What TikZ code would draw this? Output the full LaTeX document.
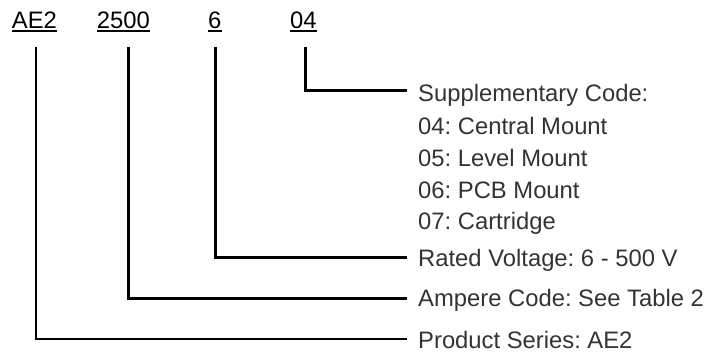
\documentclass[tikz,border=0pt]{standalone}
\usepackage{fontspec}
\setmainfont{Liberation Sans}
\usetikzlibrary{calc}
\definecolor{txtgray}{HTML}{333333}
\frenchspacing
\begin{document}
\begin{tikzpicture}[x=1pt,y=-1pt,
  lbl/.style={anchor=base west,inner sep=0pt,font=\fontsize{23.8}{28}\selectfont\frenchspacing,text=black},
  desc/.style={anchor=base west,inner sep=0pt,font=\fontsize{23.8}{28}\selectfont\frenchspacing,text=txtgray},
  uline/.style={line width=1.4pt,black},
  conn/.style={line width=3pt,black},
  thinconn/.style={line width=2pt,black}]
\useasboundingbox (0,0) rectangle (722,356);

% code labels
\node[lbl] (ae2)  at (11.7,28.3) {AE2};
\node[lbl] (amp)  at (96.7,28.3) {2500};
\node[lbl] (volt) at (208,28.3) {6};
\node[lbl] (supp) at (290,28.3) {04};
\foreach \n in {ae2,amp,volt,supp}
  \draw[uline] ($(\n.base west)+(0,2.6)$) -- ($(\n.base east)+(0,2.6)$);

% descriptions
\node[desc] (dsupp) at (418,101.7) {Supplementary Code:};
\node[desc] (d04)   at (418,134.5) {04: Central Mount};
\node[desc] (d05)   at (418,166.5) {05: Level Mount};
\node[desc] (d06)   at (418,198) {06: PCB Mount};
\node[desc] (d07)   at (418,229.5) {07: Cartridge};
\node[desc] (dvolt) at (418,266.5) {Rated Voltage: 6 - 500 V};
\node[desc] (damp)  at (418,306.5) {Ampere Code: See Table 2};
\node[desc] (dser)  at (418,348) {Product Series: AE2};

% connector start and end points
\coordinate (s1) at (36,47);
\coordinate (s2) at (128.3,47);
\coordinate (s3) at (215.5,47);
\coordinate (s4) at (305,47);
\coordinate (e4) at (407,90.7);
\coordinate (e3) at (407,257.5);
\coordinate (e2) at (407,298);
\coordinate (e1) at (407,338.5);

\draw[thinconn] (s1) |- (e1);
\draw[conn] (s2) |- (e2);
\draw[conn] (s3) |- (e3);
\draw[conn] (s4) |- (e4);
\end{tikzpicture}
\end{document}
